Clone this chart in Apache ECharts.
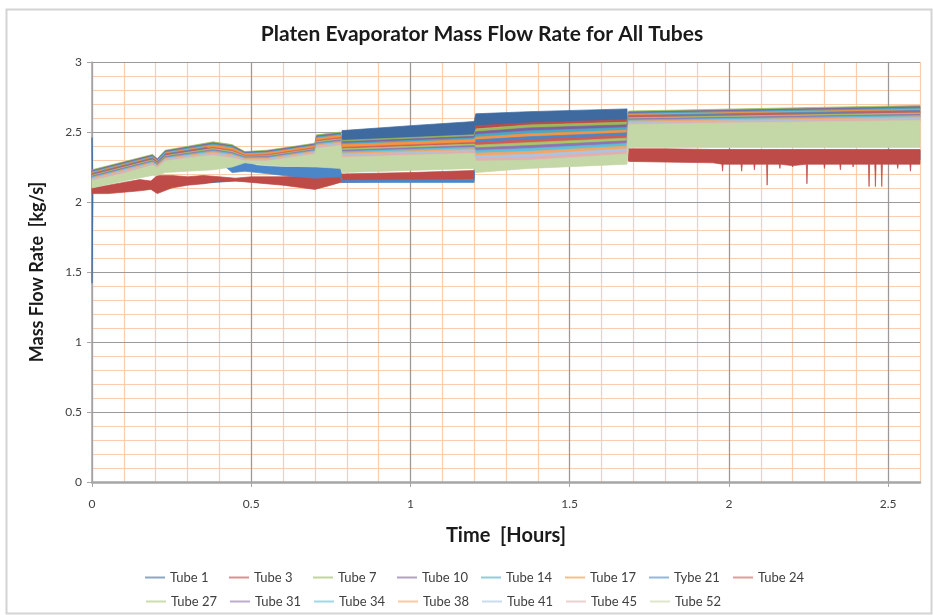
<!DOCTYPE html>
<html>
<head>
<meta charset="utf-8">
<script src="https://cdn.jsdelivr.net/npm/echarts@6/dist/echarts.min.js"></script>
<style>
html,body{margin:0;padding:0;background:#fff;}
#chart{width:933px;height:615px;}
</style>
</head>
<body>
<div id="chart"></div>
<script>
// ---- data: each row is [time (hours), lower envelope (kg/s), upper envelope (kg/s)] ----
const tubeNames = ['Tube 1','Tube 3','Tube 7','Tube 10','Tube 14','Tube 17','Tybe 21','Tube 24',
                   'Tube 27','Tube 31','Tube 34','Tube 38','Tube 41','Tube 45','Tube 52'];
const xTicks = [0, 0.5, 1, 1.5, 2, 2.5];
const yTicks = [0, 0.5, 1, 1.5, 2, 2.5, 3];

const tube1 = [[0,1.42,2.46],[0.003,2.08,2.10],[0.45,2.15,2.165],[0.78,2.15,2.18],
  [0.785,2.43,2.51],[1.0,2.45,2.545],[1.2,2.47,2.575],
  [1.205,2.54,2.63],[1.37,2.56,2.645],[1.68,2.585,2.665],
  [1.685,2.30,2.37],[2.6,2.30,2.37]];
const tube3 = [[0,2.06,2.10],[0.05,2.06,2.12],[0.1,2.07,2.14],[0.15,2.08,2.16],[0.185,2.09,2.15],
  [0.205,2.06,2.19],[0.25,2.10,2.19],[0.3,2.12,2.18],[0.35,2.13,2.19],[0.4,2.15,2.18],[0.45,2.15,2.17],
  [0.5,2.14,2.18],[0.6,2.12,2.18],[0.7,2.09,2.19],[0.75,2.12,2.19],[0.78,2.14,2.20],[1.0,2.15,2.21],[1.2,2.16,2.225],
  [1.205,2.525,2.545],[1.37,2.55,2.565],[1.68,2.572,2.588],
  [1.685,2.29,2.38],[1.8,2.285,2.38],[1.95,2.28,2.375],
  [1.978,2.27,2.375],[1.98,2.22,2.375],[1.982,2.27,2.375],
  [2.038,2.27,2.375],[2.04,2.22,2.375],[2.042,2.27,2.375],
  [2.078,2.27,2.375],[2.08,2.23,2.375],[2.082,2.27,2.375],
  [2.118,2.27,2.375],[2.12,2.12,2.375],[2.122,2.27,2.375],
  [2.158,2.27,2.375],[2.16,2.24,2.375],[2.162,2.27,2.375],
  [2.198,2.26,2.375],[2.2,2.25,2.375],[2.202,2.26,2.375],
  [2.243,2.27,2.375],[2.245,2.13,2.375],[2.247,2.27,2.375],
  [2.298,2.27,2.375],[2.3,2.24,2.375],[2.302,2.27,2.375],
  [2.348,2.27,2.375],[2.35,2.23,2.375],[2.352,2.27,2.375],
  [2.388,2.27,2.375],[2.39,2.25,2.375],[2.392,2.27,2.375],
  [2.438,2.27,2.375],[2.44,2.11,2.375],[2.442,2.27,2.375],
  [2.458,2.27,2.375],[2.46,2.11,2.375],[2.462,2.27,2.375],
  [2.478,2.27,2.375],[2.48,2.11,2.375],[2.482,2.27,2.375],
  [2.528,2.27,2.375],[2.53,2.24,2.375],[2.532,2.27,2.375],
  [2.568,2.27,2.375],[2.57,2.22,2.375],[2.572,2.27,2.375],[2.6,2.27,2.375]];
const tube7 = [[0,2.217,2.230],[0.19,2.327,2.340],[0.205,2.299,2.310],[0.23,2.357,2.370],[0.38,2.414,2.430],[0.44,2.394,2.410],[0.48,2.349,2.360],[0.55,2.357,2.370],[0.70,2.407,2.420],[0.705,2.464,2.480],[0.78,2.484,2.500],[0.785,2.420,2.440],[1.20,2.458,2.480],[1.205,2.482,2.520],[1.37,2.508,2.550],[1.68,2.532,2.570],[1.685,2.634,2.650],[2.6,2.672,2.690]];
const tube10 = [[0,2.211,2.224],[0.19,2.321,2.334],[0.205,2.294,2.305],[0.23,2.351,2.364],[0.38,2.406,2.422],[0.44,2.386,2.402],[0.48,2.344,2.355],[0.55,2.351,2.364],[0.70,2.401,2.414],[0.705,2.456,2.472],[0.78,2.476,2.492],[0.785,2.410,2.430],[1.20,2.447,2.469],[1.205,2.463,2.501],[1.37,2.487,2.529],[1.68,2.513,2.551],[1.685,2.626,2.642],[2.6,2.663,2.681]];
const tube14 = [[0,2.204,2.217],[0.19,2.314,2.327],[0.205,2.288,2.299],[0.23,2.344,2.357],[0.38,2.398,2.414],[0.44,2.378,2.394],[0.48,2.338,2.349],[0.55,2.344,2.357],[0.70,2.394,2.407],[0.705,2.448,2.464],[0.78,2.468,2.484],[0.785,2.400,2.420],[1.20,2.436,2.458],[1.205,2.444,2.482],[1.37,2.466,2.508],[1.68,2.494,2.532],[1.685,2.618,2.634],[2.6,2.654,2.672]];
const tube17 = [[0,2.198,2.211],[0.19,2.308,2.321],[0.205,2.283,2.294],[0.23,2.338,2.351],[0.38,2.390,2.406],[0.44,2.370,2.386],[0.48,2.333,2.344],[0.55,2.338,2.351],[0.70,2.388,2.401],[0.705,2.440,2.456],[0.78,2.460,2.476],[0.785,2.390,2.410],[1.20,2.425,2.447],[1.205,2.425,2.463],[1.37,2.445,2.487],[1.68,2.475,2.513],[1.685,2.610,2.626],[2.6,2.645,2.663]];
const tube21 = [[0,2.191,2.204],[0.19,2.301,2.314],[0.205,2.277,2.288],[0.23,2.331,2.344],[0.36,2.37,2.39],
  [0.44,2.21,2.25],[0.48,2.22,2.29],[0.52,2.21,2.26],[0.6,2.19,2.25],[0.7,2.17,2.25],[0.78,2.18,2.26],
  [0.785,2.14,2.155],[1.2,2.14,2.16],
  [1.205,2.406,2.444],[1.37,2.424,2.466],[1.68,2.456,2.494],[1.685,2.602,2.618],[2.6,2.636,2.654]];
const tube24 = [[0,2.185,2.198],[0.19,2.295,2.308],[0.205,2.272,2.283],[0.23,2.325,2.338],[0.38,2.374,2.390],[0.44,2.354,2.370],[0.48,2.322,2.333],[0.55,2.325,2.338],[0.70,2.375,2.388],[0.705,2.424,2.440],[0.78,2.444,2.460],[0.785,2.370,2.390],[1.20,2.403,2.425],[1.205,2.387,2.425],[1.37,2.403,2.445],[1.68,2.437,2.475],[1.685,2.594,2.610],[2.6,2.627,2.645]];
const tube27 = [[0,2.178,2.191],[0.19,2.288,2.301],[0.205,2.266,2.277],[0.23,2.318,2.331],[0.38,2.366,2.382],[0.44,2.346,2.362],[0.48,2.316,2.327],[0.55,2.318,2.331],[0.70,2.368,2.381],[0.705,2.416,2.432],[0.78,2.436,2.452],[0.785,2.360,2.380],[1.20,2.392,2.414],[1.205,2.368,2.406],[1.37,2.382,2.424],[1.68,2.418,2.456],[1.685,2.586,2.602],[2.6,2.618,2.636]];
const tube31 = [[0,2.172,2.185],[0.19,2.282,2.295],[0.205,2.261,2.272],[0.23,2.312,2.325],[0.38,2.358,2.374],[0.44,2.338,2.354],[0.48,2.311,2.322],[0.55,2.312,2.325],[0.70,2.362,2.375],[0.705,2.408,2.424],[0.78,2.428,2.444],[0.785,2.350,2.370],[1.20,2.381,2.403],[1.205,2.349,2.387],[1.37,2.361,2.403],[1.68,2.399,2.437],[1.685,2.578,2.594],[2.6,2.609,2.627]];
const tube34 = [[0,2.165,2.178],[0.19,2.275,2.288],[0.205,2.255,2.266],[0.23,2.305,2.318],[0.38,2.350,2.366],[0.44,2.330,2.346],[0.48,2.305,2.316],[0.55,2.305,2.318],[0.70,2.355,2.368],[0.705,2.400,2.416],[0.78,2.420,2.436],[0.785,2.340,2.360],[1.20,2.370,2.392],[1.205,2.330,2.368],[1.37,2.340,2.382],[1.68,2.380,2.418],[1.685,2.570,2.586],[2.6,2.600,2.618]];
const tube38 = [[0,2.159,2.172],[0.19,2.269,2.282],[0.205,2.250,2.261],[0.23,2.299,2.312],[0.38,2.342,2.358],[0.44,2.322,2.338],[0.48,2.300,2.311],[0.55,2.299,2.312],[0.70,2.349,2.362],[0.705,2.392,2.408],[0.78,2.412,2.428],[0.785,2.330,2.350],[1.20,2.359,2.381],[1.205,2.311,2.349],[1.37,2.319,2.361],[1.68,2.361,2.399],[1.685,2.562,2.578],[2.6,2.591,2.609]];
const tube41 = [[0,2.152,2.165],[0.19,2.262,2.275],[0.205,2.244,2.255],[0.23,2.292,2.305],[0.38,2.334,2.350],[0.44,2.314,2.330],[0.48,2.294,2.305],[0.55,2.292,2.305],[0.70,2.342,2.355],[0.705,2.384,2.400],[0.78,2.404,2.420],[0.785,2.320,2.340],[1.20,2.348,2.370],[1.205,2.292,2.330],[1.37,2.298,2.340],[1.68,2.342,2.380],[1.685,2.554,2.570],[2.6,2.582,2.600]];
const tube45 = [[0,2.146,2.159],[0.19,2.256,2.269],[0.205,2.239,2.250],[0.23,2.286,2.299],[0.38,2.326,2.342],[0.44,2.306,2.322],[0.48,2.289,2.300],[0.55,2.286,2.299],[0.70,2.336,2.349],[0.705,2.376,2.392],[0.78,2.396,2.412],[0.785,2.310,2.330],[1.20,2.337,2.359],[1.205,2.273,2.311],[1.37,2.277,2.319],[1.68,2.323,2.361],[1.685,2.546,2.562],[2.6,2.573,2.591]];
const tube52 = [[0,2.100,2.152],[0.1,2.150,2.205],[0.19,2.190,2.262],[0.205,2.190,2.244],[0.23,2.210,2.292],[0.3,2.220,2.315],[0.38,2.230,2.334],[0.44,2.250,2.314],[0.48,2.280,2.294],[0.55,2.260,2.292],[0.70,2.250,2.342],[0.705,2.250,2.384],[0.78,2.240,2.404],[0.785,2.210,2.320],[1.20,2.240,2.348],[1.205,2.210,2.292],[1.37,2.240,2.298],[1.68,2.270,2.342],[1.685,2.390,2.554],[2.0,2.390,2.565],[2.6,2.390,2.582]];

const tubeData = [tube1,tube3,tube7,tube10,tube14,tube17,tube21,tube24,tube27,tube31,tube34,tube38,tube41,tube45,tube52];
const tubeColors = ['#3E6AA0','#BE4B48','#98B954','#7D60A0','#46AAC5','#F69240','#4A86C8','#D05A57',
                    '#A6C86A','#8E74B5','#5CC0DA','#F9A561','#A9C4E5','#E3AEAD','#C4D7A6'];

function bandRenderer(rows) {
  return function (params, api) {
    if (params.dataIndex !== 0) return null;
    const top = rows.map(r => api.coord([r[0], r[2]]));
    const bot = rows.map(r => api.coord([r[0], r[1]])).reverse();
    const c = api.visual('color');
    return {
      type: 'polygon',
      shape: { points: top.concat(bot) },
      style: { fill: c, stroke: c, lineWidth: 0.7 }
    };
  };
}

const FONT = 'Lato, "Liberation Sans", sans-serif';
const chart = echarts.init(document.getElementById('chart'), null, { renderer: 'canvas' });

const series = tubeNames.map((name, i) => ({
  name: name,
  type: 'custom',
  xAxisIndex: 0,
  yAxisIndex: 0,
  itemStyle: { color: tubeColors[i] },
  renderItem: bandRenderer(tubeData[i]),
  encode: { x: 0, y: [1, 2] },
  data: tubeData[i],
  silent: true,
  z: 3
}));

// legend laid out as a fixed-pitch table: 8 entries in the first row, 7 in the second
const legends = tubeNames.map((name, i) => {
  const row = i < 8 ? 0 : 1;
  const col = i < 8 ? i : i - 8;
  return {
    data: [name],
    left: 145 + col * 84 + (row ? 1 : 0),
    top: 571 + row * 24,
    padding: 0,
    icon: 'rect', itemWidth: 20, itemHeight: 2,
    itemStyle: { opacity: 0.6 },
    textStyle: { fontFamily: FONT, fontSize: 13, color: '#404040' },
    selectedMode: false
  };
});

chart.setOption({
  animation: false,
  backgroundColor: '#ffffff',
  color: tubeColors,
  title: {
    text: 'Platen Evaporator Mass Flow Rate for All Tubes',
    left: 477, top: 19, textAlign: 'center',
    textStyle: { fontFamily: FONT, fontSize: 21, fontWeight: 'bold', color: '#1a1a1a' }
  },
  graphic: [{
    type: 'rect', left: 4, top: 7, z: -10,
    shape: { width: 925, height: 604 },
    style: { fill: 'none', stroke: '#d4d4d4', lineWidth: 2 }
  }],
  grid: { left: 92, right: 13, top: 62, bottom: 133, containLabel: false },
  legend: legends,
  xAxis: [{
    type: 'value', min: 0, max: 2.6, interval: 0.5, z: 1,
    name: 'Time  [Hours]', nameLocation: 'middle', nameGap: 44,
    nameTextStyle: { fontFamily: FONT, fontSize: 20, fontWeight: 'bold', color: '#1a1a1a' },
    axisLine: { show: true, onZero: false, lineStyle: { color: '#a6a6a6', width: 2.5 } },
    axisTick: { show: true, length: 5, lineStyle: { color: '#a6a6a6' } },
    axisLabel: { margin: 16, fontFamily: FONT, fontSize: 12, color: '#404040', showMaxLabel: false,
      formatter: v => xTicks.indexOf(Math.round(v * 10) / 10) >= 0 ? String(Math.round(v * 10) / 10) : '' },
    splitLine: { show: true, showMaxLine: false, lineStyle: { color: '#9a9a9a', width: 1.2 } }
  }, {
    type: 'value', min: 0, max: 2.6, interval: 0.1, z: 0, show: true,
    axisLine: { show: false }, axisTick: { show: false }, axisLabel: { show: false },
    splitLine: { show: true, lineStyle: { color: '#F9CDAE', width: 1.2 } }
  }],
  yAxis: [{
    type: 'value', min: 0, max: 3, interval: 0.5, z: 1,
    name: 'Mass Flow Rate  [kg/s]', nameLocation: 'middle', nameGap: 46,
    nameTextStyle: { fontFamily: FONT, fontSize: 18, fontWeight: 'bold', color: '#1a1a1a' },
    axisLine: { show: true, lineStyle: { color: '#a6a6a6', width: 1.5 } },
    axisTick: { show: true, length: 5, lineStyle: { color: '#a6a6a6' } },
    axisLabel: { margin: 10, fontFamily: FONT, fontSize: 12, color: '#404040',
      formatter: v => yTicks.indexOf(v) >= 0 ? String(v) : '' },
    splitLine: { show: true, lineStyle: { color: '#9a9a9a', width: 1.2 } }
  }, {
    type: 'value', min: 0, max: 3, interval: 0.1, z: 0, show: true,
    axisLine: { show: false }, axisTick: { show: false }, axisLabel: { show: false },
    splitLine: { show: true, lineStyle: { color: '#F9CDAE', width: 1.2 } }
  }],
  series: series
});
</script>
</body>
</html>
